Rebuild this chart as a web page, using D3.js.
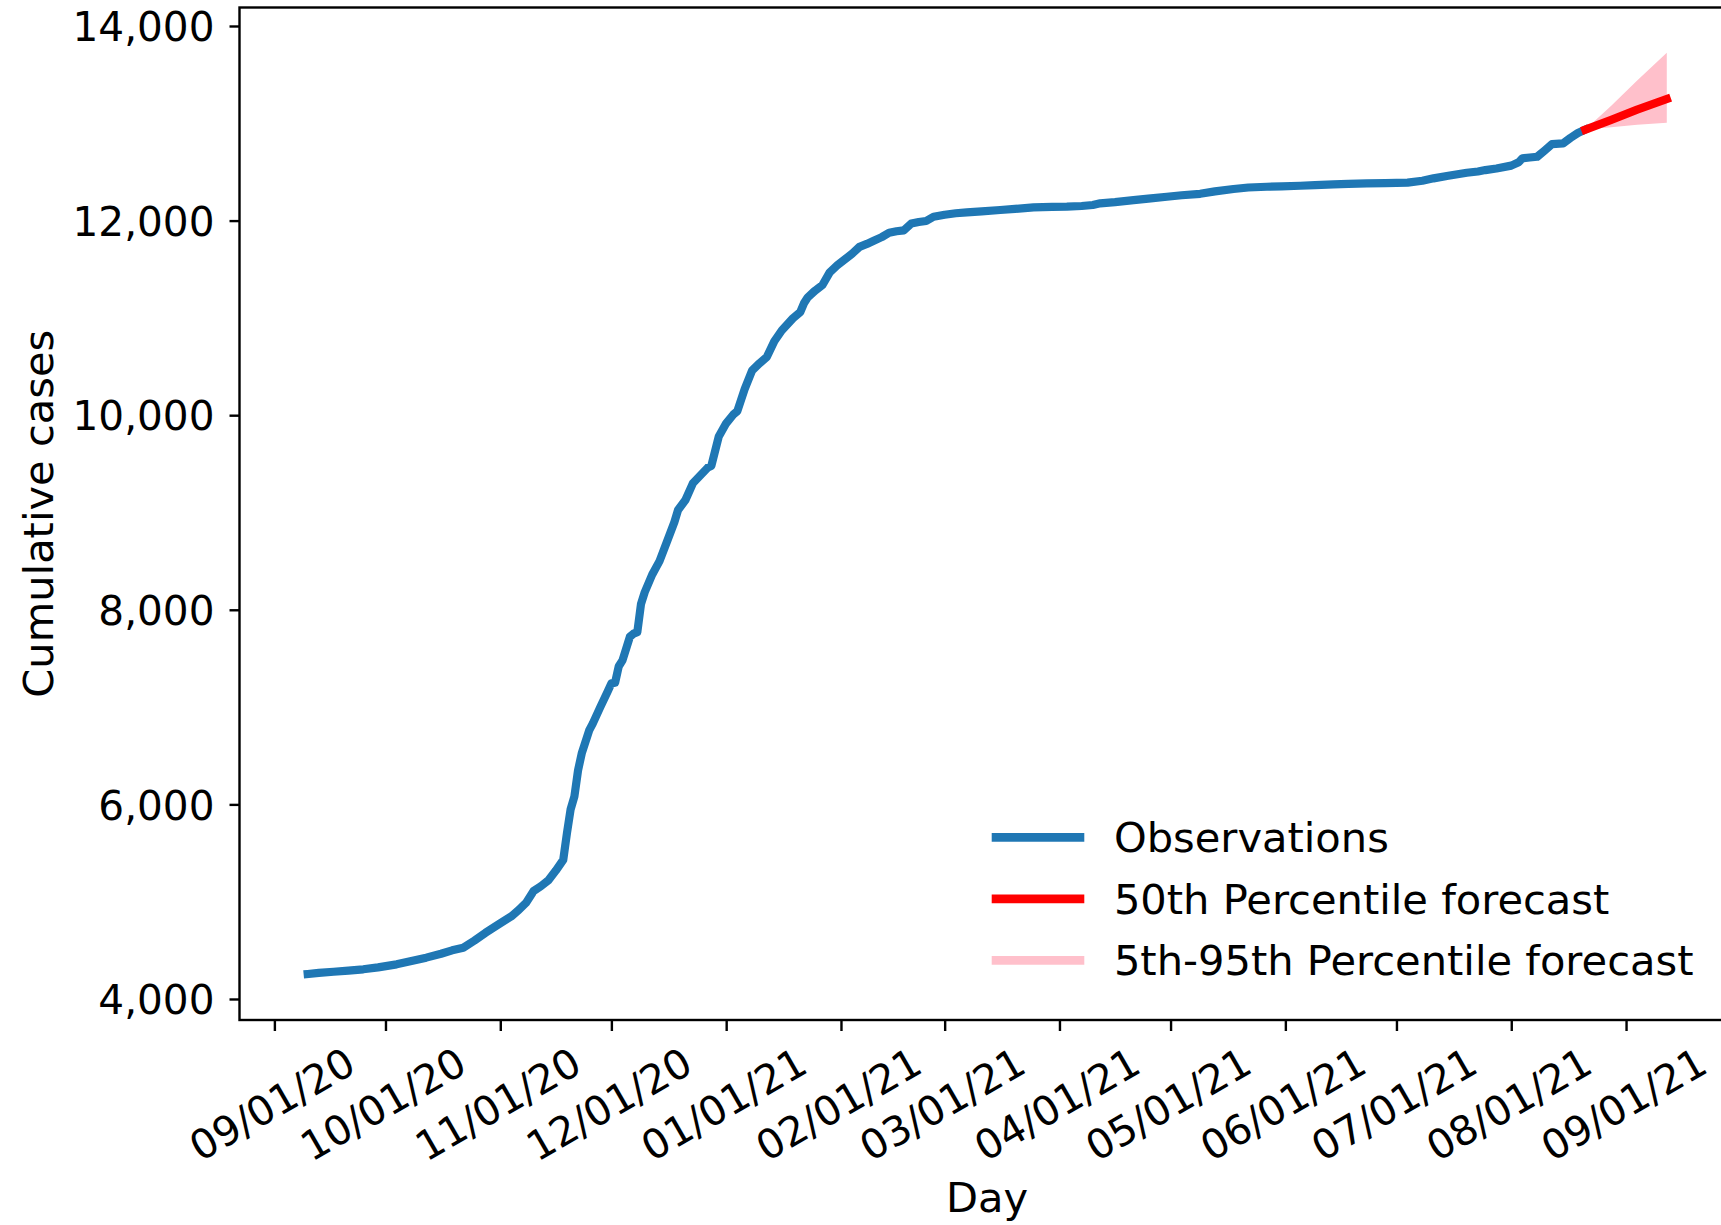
<!DOCTYPE html>
<html>
<head>
<meta charset="utf-8">
<script src="https://cdn.jsdelivr.net/npm/d3@7"></script>
<style>
  html, body { margin: 0; padding: 0; background: #ffffff; }
  svg { display: block; }
  text { font-family: "DejaVu Sans", sans-serif; fill: #000; }
</style>
</head>
<body>
<svg id="chart" width="1721" height="1225"></svg>
<script>
// Observed cumulative cases
const obsDates = [
  "2020-09-10","2020-09-13","2020-09-17","2020-09-21","2020-09-25","2020-09-29",
  "2020-10-04","2020-10-08","2020-10-12","2020-10-16","2020-10-19","2020-10-22","2020-10-25","2020-10-28",
  "2020-11-01","2020-11-04","2020-11-06","2020-11-08","2020-11-10","2020-11-12","2020-11-14","2020-11-16",
  "2020-11-18","2020-11-19","2020-11-20","2020-11-21","2020-11-22","2020-11-23","2020-11-25","2020-11-26",
  "2020-11-28","2020-11-30","2020-12-01","2020-12-02","2020-12-03","2020-12-04","2020-12-06","2020-12-07",
  "2020-12-08","2020-12-09","2020-12-10","2020-12-12","2020-12-14","2020-12-16","2020-12-18","2020-12-19",
  "2020-12-21","2020-12-23","2020-12-25","2020-12-27","2020-12-28","2020-12-30",
  "2021-01-01","2021-01-03","2021-01-04","2021-01-06","2021-01-08","2021-01-10","2021-01-12","2021-01-14",
  "2021-01-16","2021-01-19","2021-01-21","2021-01-22","2021-01-23","2021-01-25","2021-01-27","2021-01-29",
  "2021-01-31","2021-02-02","2021-02-04","2021-02-06","2021-02-08","2021-02-10","2021-02-12","2021-02-14",
  "2021-02-16","2021-02-18","2021-02-20","2021-02-22","2021-02-24","2021-02-26",
  "2021-03-01","2021-03-04","2021-03-07","2021-03-11","2021-03-16","2021-03-20","2021-03-25","2021-03-30",
  "2021-04-03","2021-04-07","2021-04-10","2021-04-12","2021-04-16","2021-04-21","2021-04-25","2021-04-30",
  "2021-05-04","2021-05-09","2021-05-13","2021-05-18","2021-05-22","2021-05-27","2021-05-31",
  "2021-06-05","2021-06-09","2021-06-14","2021-06-18","2021-06-23","2021-06-28",
  "2021-07-04","2021-07-08","2021-07-11","2021-07-15","2021-07-20","2021-07-23","2021-07-25","2021-07-28",
  "2021-08-01","2021-08-03","2021-08-04","2021-08-06","2021-08-08","2021-08-10","2021-08-12","2021-08-15",
  "2021-08-17","2021-08-19","2021-08-21"
];
const obsValues = [
  4257, 4268, 4280, 4291, 4305, 4325,
  4356, 4390, 4425, 4465, 4500, 4527, 4600, 4680,
  4778, 4850, 4915, 4990, 5110, 5160, 5220, 5320,
  5430, 5703, 5950, 6079, 6350, 6525, 6760, 6833,
  7000, 7160, 7244, 7250, 7420, 7480, 7723, 7755,
  7770, 8060, 8180, 8360, 8500, 8700, 8900, 9025,
  9128, 9300, 9380, 9460, 9480, 9780,
  9916, 10010, 10040, 10270, 10460, 10533, 10600, 10760,
  10870, 10995, 11060, 11150, 11210, 11280, 11338, 11470,
  11540, 11600, 11660, 11730, 11760, 11795, 11830, 11875,
  11890, 11900, 11970, 11985, 11996, 12040,
  12060, 12075, 12085, 12095, 12109, 12120, 12136, 12140,
  12143, 12150, 12160, 12177, 12190, 12211, 12225, 12245,
  12260, 12275, 12300, 12325, 12340, 12348, 12352,
  12358, 12365, 12372, 12378, 12383, 12386,
  12390, 12410, 12434, 12460, 12492, 12505, 12519, 12535,
  12565, 12600, 12640, 12648, 12656, 12720, 12785, 12794,
  12850, 12900, 12935
];

// Forecast: median and 5th-95th percentile band
const fcDates = ["2021-08-21", "2021-08-28", "2021-09-04", "2021-09-12"];
const fcMedian = [12935, 13035, 13140, 13250];
const fcLower  = [12935, 12960, 12985, 13006];
const fcUpper  = [12935, 13180, 13440, 13726];

// Axis ticks
const xTickDates = [
  "2020-09-01","2020-10-01","2020-11-01","2020-12-01","2021-01-01","2021-02-01","2021-03-01",
  "2021-04-01","2021-05-01","2021-06-01","2021-07-01","2021-08-01","2021-09-01"
];
const yTickValues = [4000, 6000, 8000, 10000, 12000, 14000];

const legendLabels = ["Observations", "50th Percentile forecast", "5th-95th Percentile forecast"];
const legendColors = ["#1f77b4", "#ff0000", "#ffc0cb"];

const parse = d3.utcParse("%Y-%m-%d");
const DAY = 864e5;

const plot = { left: 239.5, right: 1739, top: 7.5, bottom: 1020 };
const TICK_FONT = 40.6;
const LABEL_FONT = 41.6;
const LINE_W = 8.2;

const svg = d3.select("#chart");

const origin = parse("2020-09-01").getTime();
const x = d3.scaleUtc()
  .domain([new Date(origin - 9.42 * DAY), new Date(origin + 395.5 * DAY)])
  .range([plot.left, plot.right]);

const y = d3.scaleLinear()
  .domain([3784, 14190])
  .range([plot.bottom, plot.top]);

const obs = obsDates.map((d, i) => ({ date: parse(d), value: obsValues[i] }));
const fc = fcDates.map((d, i) => ({ date: parse(d), mid: fcMedian[i], lo: fcLower[i], hi: fcUpper[i] }));

const clipId = "plot-clip";
svg.append("clipPath").attr("id", clipId)
  .append("rect")
  .attr("x", plot.left).attr("y", plot.top)
  .attr("width", plot.right - plot.left).attr("height", plot.bottom - plot.top);

const g = svg.append("g").attr("clip-path", `url(#${clipId})`);

// Observations
g.append("path")
  .datum(obs)
  .attr("fill", "none")
  .attr("stroke", "#1f77b4")
  .attr("stroke-width", LINE_W)
  .attr("stroke-linecap", "square")
  .attr("stroke-linejoin", "round")
  .attr("d", d3.line().x(d => x(d.date)).y(d => y(d.value)));

// Forecast band
g.append("path")
  .datum(fc)
  .attr("fill", "#ffc0cb")
  .attr("stroke", "none")
  .attr("d", d3.area().x(d => x(d.date)).y0(d => y(d.lo)).y1(d => y(d.hi)));

// Median forecast
g.append("path")
  .datum(fc)
  .attr("fill", "none")
  .attr("stroke", "#ff0000")
  .attr("stroke-width", LINE_W)
  .attr("stroke-linecap", "square")
  .attr("stroke-linejoin", "round")
  .attr("d", d3.line().x(d => x(d.date)).y(d => y(d.mid)));

// Axes
const xAxis = d3.axisBottom(x)
  .tickValues(xTickDates.map(parse))
  .tickFormat(d3.utcFormat("%m/%d/%y"))
  .tickSize(11)
  .tickPadding(0);

const xg = svg.append("g")
  .attr("transform", `translate(0,${plot.bottom})`)
  .call(xAxis);
xg.select(".domain").remove();
xg.selectAll(".tick line").attr("stroke", "#000").attr("stroke-width", 2.4);
xg.selectAll(".tick text")
  .attr("font-family", "DejaVu Sans, sans-serif")
  .attr("font-size", TICK_FONT)
  .attr("fill", "#000")
  .attr("text-anchor", "middle")
  .attr("y", 0)
  .attr("dy", "0.36em")
  .attr("transform", "translate(-3,84) rotate(-30)");

const yAxis = d3.axisLeft(y)
  .tickValues(yTickValues)
  .tickFormat(d3.format(","))
  .tickSize(10)
  .tickPadding(15);

const yg = svg.append("g")
  .attr("transform", `translate(${plot.left},0)`)
  .call(yAxis);
yg.select(".domain").remove();
yg.selectAll(".tick line").attr("stroke", "#000").attr("stroke-width", 2.4);
yg.selectAll(".tick text")
  .attr("font-family", "DejaVu Sans, sans-serif")
  .attr("font-size", TICK_FONT)
  .attr("fill", "#000")
  .attr("dy", "0.36em");

// Frame
svg.append("rect")
  .attr("x", plot.left).attr("y", plot.top)
  .attr("width", plot.right - plot.left).attr("height", plot.bottom - plot.top)
  .attr("fill", "none")
  .attr("stroke", "#000")
  .attr("stroke-width", 2.4);

// Axis titles
svg.append("text")
  .attr("x", 987).attr("y", 1212)
  .attr("text-anchor", "middle")
  .attr("font-size", LABEL_FONT)
  .text("Day");

svg.append("text")
  .attr("transform", `translate(53,${(plot.top + plot.bottom) / 2}) rotate(-90)`)
  .attr("text-anchor", "middle")
  .attr("font-size", LABEL_FONT)
  .text("Cumulative cases");

// Legend
const legend = svg.append("g").attr("transform", "translate(991.7,837.3)");
const rows = legend.selectAll("g.row")
  .data(legendLabels)
  .join("g")
  .attr("class", "row")
  .attr("transform", (d, i) => `translate(0,${i * 61.5})`);
rows.append("line")
  .attr("x1", 0).attr("x2", 92.6)
  .attr("y1", 0).attr("y2", 0)
  .attr("stroke", (d, i) => legendColors[i])
  .attr("stroke-width", 8.8);
rows.append("text")
  .attr("x", 122.2)
  .attr("y", 15)
  .attr("font-size", LABEL_FONT)
  .text(d => d);
</script>
</body>
</html>
